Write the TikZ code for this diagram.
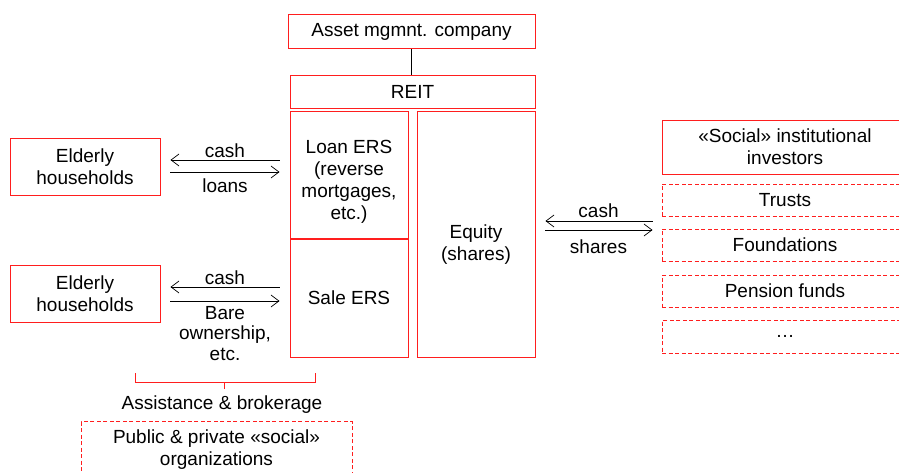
\documentclass[tikz,border=0pt]{standalone}
\usepackage{fontspec}
\setmainfont{Liberation Sans}
\usetikzlibrary{arrows.meta}
\definecolor{boxred}{RGB}{255,30,30}
\tikzset{
  box/.style={draw=boxred, line width=0.9pt, align=center, inner sep=2pt},
  dbox/.style={box, dash pattern=on 4pt off 2.5pt},
  arr/.style={draw=black, line width=0.7pt, -{Straight Barb[length=8pt,width=12pt,line width=0.7pt]}},
  lbl/.style={align=center, inner sep=1pt},
  brace/.style={draw=boxred, line width=0.9pt}
}
\begin{document}
\begin{tikzpicture}[x=1pt,y=-1pt,font=\fontsize{19}{22}\selectfont]
\useasboundingbox (0,0) rectangle (899,473);
\clip (0,0) rectangle (899,473);
% central structure
\node[box, minimum width=247, minimum height=34] (amc) at (411.5,31.5) {Asset mgmnt. company};
\node[box, minimum width=245, minimum height=33] (reit) at (412.5,92) {REIT};
\draw[line width=0.8pt] (amc.south) -- (amc.south |- reit.north);
\node[box, minimum width=118, minimum height=127, label={[lbl, align=center, yshift=-7pt]center:Loan ERS\\(reverse\\mortgages,\\etc.)}] (loan) at (349,174.5) {};
\node[box, minimum width=118, minimum height=118] (sale) at (349,298) {Sale ERS};
\node[box, minimum width=118, minimum height=246, label={[lbl, align=center, yshift=-11pt]center:Equity\\(shares)}] (equity) at (476,234) {};
% households
\node[box, minimum width=150, minimum height=57] (eh1) at (85,166.5) {Elderly\\households};
\node[box, minimum width=150, minimum height=57] (eh2) at (85,293.5) {Elderly\\households};
% arrows households 1
\draw[arr, shorten >=10pt, shorten <=10pt] ([yshift=6.5pt]loan.west |- eh1.east) -- node[lbl, above=1pt] {cash} ([yshift=6.5pt]eh1.east);
\draw[arr, shorten >=10pt, shorten <=10pt] ([yshift=-5.5pt]eh1.east) -- node[lbl, below=5pt] {loans} ([yshift=-5.5pt]loan.west |- eh1.east);
% arrows households 2
\draw[arr, shorten >=10pt, shorten <=10pt] ([yshift=6.5pt]sale.west |- eh2.east) -- node[lbl, above=1pt] {cash} ([yshift=6.5pt]eh2.east);
\draw[arr, shorten >=10pt, shorten <=10pt] ([yshift=-7.5pt]eh2.east) -- node[lbl, below=4pt, font=\fontsize{19}{20.5}\selectfont] {Bare\\ownership,\\etc.} ([yshift=-7.5pt]sale.west |- eh2.east);
% investors
\node[box, minimum width=246, minimum height=54] (social) at (785,147) {«Social» institutional\\investors};
\node[dbox, minimum width=246, minimum height=32] (trusts) at (785,200) {Trusts};
\node[dbox, minimum width=246, minimum height=32] (found) at (785,245) {Foundations};
\node[dbox, minimum width=246, minimum height=32] (pension) at (785,291) {Pension funds};
\node[dbox, minimum width=246, minimum height=33] (etc) at (785,336.5) {\dots};
% equity arrows
\draw[arr, shorten >=10pt, shorten <=9pt] ([yshift=13pt]trusts.west |- equity.east) -- node[lbl, above=2pt] {cash} ([yshift=13pt]equity.east);
\draw[arr, shorten >=9pt, shorten <=10pt] ([yshift=4pt]equity.east) -- node[lbl, below=8pt] {shares} ([yshift=4pt]trusts.west |- equity.east);
% brace
\coordinate (bl) at (135,373);
\coordinate (br) at (315,373);
\coordinate (bt) at (224,389);
\draw[brace] (bl) -- ++(0,9) -| (br);
\draw[brace] (bt) -- (bt |- 0,382);
\node[lbl] (assist) at (222,404.5) {Assistance \& brokerage};
\node[dbox, minimum width=271, minimum height=56] (public) at (216.5,449.5) {Public \& private «social»\\organizations};
\end{tikzpicture}
\end{document}
